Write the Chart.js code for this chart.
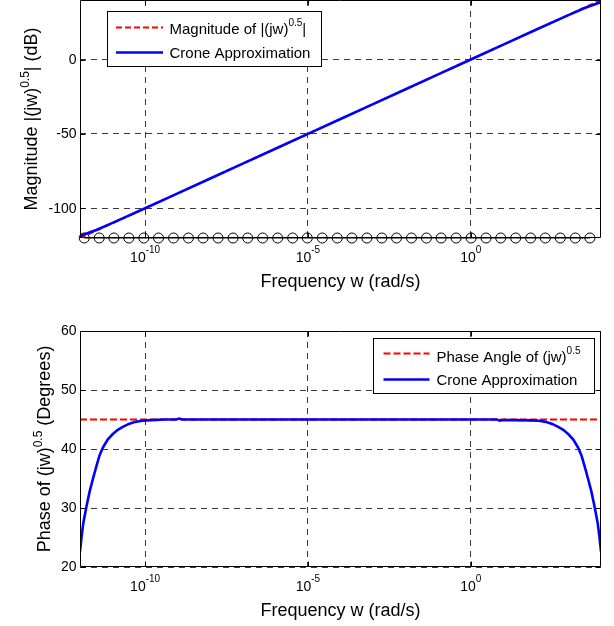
<!DOCTYPE html>
<html>
<head>
<meta charset="utf-8">
<title>Crone approximation of (jw)^0.5</title>
<style>
  html, body { margin: 0; padding: 0; background: #fff; overflow: hidden; }
  canvas { position: absolute; left: 0; display: block; }
</style>
<script src="https://cdn.jsdelivr.net/npm/chart.js@4/dist/chart.umd.min.js"></script>
</head>
<body>
<canvas id="mag" width="614" height="310" style="top:0"></canvas>
<canvas id="phase" width="614" height="316" style="top:310px"></canvas>
<script>
// ---- data (frequencies given as log10 exponents) ----
const xTickExp = [-10, -5, 0];

const magExp        = [-12, -11.5, -11, -10, -9, -8, -7, -6, -5, -4, -3, -2, -1, 0, 1, 2, 3, 3.5, 4];
const magExact      = [-120, -115, -110, -100, -90, -80, -70, -60, -50, -40, -30, -20, -10, 0, 10, 20, 30, 35, 40];
const magCrone      = [-118.6, -114.6, -109.8, -100, -90, -80, -70, -60, -50, -40, -30, -20, -10, 0, 10, 20, 29.8, 34.6, 38.6];
const magTicks      = [-100, -50, 0];

// recursive pole/zero frequencies shown along the bottom of the magnitude plot
const markerExp = [-11.87, -11.41, -10.96, -10.50, -10.04, -9.59, -9.13, -8.67, -8.22, -7.76,
                   -7.30, -6.85, -6.39, -5.93, -5.47, -5.02, -4.56, -4.10, -3.65, -3.19,
                   -2.73, -2.28, -1.82, -1.36, -0.91, -0.45, 0.01, 0.47, 0.92, 1.38,
                   1.84, 2.29, 2.75, 3.21, 3.66];
const markerLevel = -120;

const phaseExp   = [-12.00, -11.95, -11.90, -11.80, -11.70, -11.60, -11.50, -11.40, -11.30, -11.15,
                    -11.00, -10.85, -10.70, -10.50, -10.30, -10.10, -9.80, -9.40, -9.05, -8.95,
                    -8.85, -8, -6, -4, -2, 0, 0.80, 0.90, 1.00, 1.30,
                    1.80, 2.10, 2.30, 2.50, 2.70, 2.85, 3.00, 3.15, 3.30, 3.40,
                    3.50, 3.60, 3.70, 3.80, 3.90, 3.95, 4.00];
const phaseCrone = [22.6, 25.2, 27.4, 30.3, 32.9, 35.0, 37.0, 38.9, 40.2, 41.6,
                    42.5, 43.2, 43.7, 44.25, 44.6, 44.8, 44.9, 45.0, 45.0, 45.15,
                    45.0, 45.0, 45.0, 45.0, 45.0, 45.0, 45.0, 44.8, 44.9, 44.9,
                    44.85, 44.8, 44.6, 44.25, 43.7, 43.2, 42.5, 41.6, 40.2, 38.9,
                    37.0, 35.0, 32.9, 30.3, 27.4, 25.2, 22.6];
const phaseExactExp = [-12, 4];
const phaseExact    = [45, 45];
const phaseTicks    = [20, 30, 40, 50, 60];

// ---- helpers ----
const FONT = '"Liberation Sans", Arial, Helvetica, sans-serif';
const pts = (exps, ys) => exps.map((e, i) => ({ x: Math.pow(10, e), y: ys[i] }));

// measure / draw text made of normal and superscript runs
function richWidth(ctx, parts, size, supSize) {
  let w = 0;
  for (const [t, sup] of parts) {
    ctx.font = (sup ? supSize : size) + 'px ' + FONT;
    w += ctx.measureText(t).width;
  }
  return w;
}
function drawRich(ctx, parts, x, y, size, supSize, raise, align) {
  let cx = x;
  if (align === 'center') cx -= richWidth(ctx, parts, size, supSize) / 2;
  ctx.textAlign = 'left';
  ctx.textBaseline = 'alphabetic';
  for (const [t, sup] of parts) {
    ctx.font = (sup ? supSize : size) + 'px ' + FONT;
    ctx.fillText(t, cx, sup ? y - raise : y);
    cx += ctx.measureText(t).width;
  }
}

// axes box, inward ticks, tick labels, titles and legend in the classic plot style
const boxAxes = {
  id: 'boxAxes',
  afterDraw(chart, args, o) {
    const { ctx, chartArea: a } = chart;
    const xs = chart.scales.x, ys = chart.scales.y;
    const L = Math.round(a.left) + 0.5, R = Math.round(a.right) - 0.5;
    const T = Math.round(a.top) + 0.5, B = Math.round(a.bottom) - 0.5;
    ctx.save();
    ctx.fillStyle = '#000';
    ctx.strokeStyle = '#000';
    ctx.lineWidth = 1;
    ctx.setLineDash([]);
    ctx.beginPath();
    ctx.rect(L, T, R - L, B - T);
    // inward tick marks on all four sides
    for (const t of xs.ticks) {
      const px = Math.round(xs.getPixelForValue(t.value)) + 0.5;
      ctx.moveTo(px, B); ctx.lineTo(px, B - 5);
      ctx.moveTo(px, T); ctx.lineTo(px, T + 5);
    }
    for (const t of ys.ticks) {
      const py = Math.round(ys.getPixelForValue(t.value)) + 0.5;
      ctx.moveTo(L, py); ctx.lineTo(L + 5, py);
      ctx.moveTo(R, py); ctx.lineTo(R - 5, py);
    }
    ctx.stroke();

    // y tick labels
    ctx.font = '14px ' + FONT;
    ctx.textAlign = 'right';
    ctx.textBaseline = 'middle';
    for (const t of ys.ticks) {
      ctx.fillText(String(t.value), a.left - 3.5, ys.getPixelForValue(t.value) + 0.5);
    }
    // x tick labels as powers of ten
    for (const t of xs.ticks) {
      const e = Math.round(Math.log10(t.value));
      drawRich(ctx, [['10', false], [String(e), true]],
               xs.getPixelForValue(t.value), a.bottom + 23.5, 14, 10, 8.4, 'center');
    }
    // axis titles
    drawRich(ctx, [['Frequency w (rad/s)', false]], (a.left + a.right) / 2, a.bottom + 48.5, 18, 12, 0, 'center');
    ctx.save();
    ctx.translate(o.yTitleX, (a.top + a.bottom) / 2);
    ctx.rotate(-Math.PI / 2);
    drawRich(ctx, o.yTitle, 0, 0, 18, 12, 8.5, 'center');
    ctx.restore();

    // legend
    const lg = o.legend;
    const [bx0, by0, bx1, by1] = lg.box;
    ctx.fillStyle = '#fff';
    ctx.fillRect(bx0, by0, bx1 - bx0, by1 - by0);
    ctx.strokeStyle = '#000';
    ctx.lineWidth = 1;
    ctx.strokeRect(bx0 + 0.5, by0 + 0.5, bx1 - bx0 - 1, by1 - by0 - 1);
    for (const it of lg.items) {
      ctx.beginPath();
      ctx.strokeStyle = it.color;
      ctx.lineWidth = it.width;
      ctx.setLineDash(it.dash);
      ctx.moveTo(lg.lineX[0], it.lineY);
      ctx.lineTo(lg.lineX[1], it.lineY);
      ctx.stroke();
      ctx.setLineDash([]);
      ctx.fillStyle = '#000';
      drawRich(ctx, it.parts, lg.textX, it.textY, 15, 10, 8, 'left');
    }
    ctx.restore();
  }
};

function scaleX(height) {
  return {
    type: 'logarithmic',
    min: 1e-12,
    max: 1e4,
    afterBuildTicks: s => { s.ticks = xTickExp.map(e => ({ value: Math.pow(10, e) })); },
    afterFit: s => { s.height = height; },
    ticks: { display: false },
    grid: { color: '#3a3a3a', lineWidth: 1, drawTicks: false },
    border: { display: false, dash: [6, 5] }
  };
}
function scaleY(min, max, ticks) {
  return {
    type: 'linear',
    min: min,
    max: max,
    afterBuildTicks: s => { s.ticks = ticks.map(v => ({ value: v })); },
    afterFit: s => { s.width = 80; },
    ticks: { display: false },
    grid: { color: '#3a3a3a', lineWidth: 1, drawTicks: false },
    border: { display: false, dash: [6, 5] }
  };
}
const common = {
  responsive: false,
  animation: false,
  events: [],
  plugins: { legend: { display: false }, tooltip: { enabled: false } }
};

// ---- magnitude plot ----
new Chart(document.getElementById('mag'), {
  type: 'line',
  data: {
    datasets: [
      { label: 'Crone Approximation', data: pts(magExp, magCrone),
        borderColor: '#0000ff', borderWidth: 2.6, pointRadius: 0, tension: 0 },
      { label: 'Magnitude of |(jw)^0.5|', data: pts(magExp, magExact),
        borderColor: '#ff0000', borderWidth: 2, borderDash: [6, 3], pointRadius: 0, tension: 0 },
      { label: 'poles/zeros', data: markerExp.map(e => ({ x: Math.pow(10, e), y: markerLevel })),
        borderColor: '#000', borderWidth: 1, pointRadius: 5, pointStyle: 'circle',
        pointBorderColor: '#000', pointBorderWidth: 1, pointBackgroundColor: 'rgba(0,0,0,0)',
        clip: false, tension: 0 }
    ]
  },
  options: Object.assign({}, common, {
    layout: { autoPadding: false, padding: { left: 0, right: 13, top: 0, bottom: 0 } },
    scales: { x: scaleX(72), y: scaleY(-120, 40, magTicks) },
    plugins: Object.assign({}, common.plugins, {
      boxAxes: {
        yTitleX: 37,
        yTitle: [['Magnitude |(jw)', false], ['0.5', true], ['| (dB)', false]],
        legend: {
          box: [107, 11, 322, 67],
          lineX: [116, 163],
          textX: 169.5,
          items: [
            { color: '#ff0000', width: 2, dash: [6, 3], lineY: 27.5, textY: 34,
              parts: [['Magnitude of |(jw)', false], ['0.5', true], ['|', false]] },
            { color: '#0000ff', width: 2.6, dash: [], lineY: 52.5, textY: 58.3,
              parts: [['Crone Approximation', false]] }
          ]
        }
      }
    })
  }),
  plugins: [boxAxes]
});

// ---- phase plot ----
new Chart(document.getElementById('phase'), {
  type: 'line',
  data: {
    datasets: [
      { label: 'Crone Approximation', data: pts(phaseExp, phaseCrone),
        borderColor: '#0000ff', borderWidth: 2.6, pointRadius: 0, tension: 0 },
      { label: 'Phase Angle of (jw)^0.5', data: pts(phaseExactExp, phaseExact),
        borderColor: '#ff0000', borderWidth: 2, borderDash: [7, 3], pointRadius: 0, tension: 0 }
    ]
  },
  options: Object.assign({}, common, {
    layout: { autoPadding: false, padding: { left: 0, right: 13, top: 21, bottom: 0 } },
    scales: { x: scaleX(59), y: scaleY(20, 60, phaseTicks) },
    plugins: Object.assign({}, common.plugins, {
      boxAxes: {
        yTitleX: 50,
        yTitle: [['Phase of (jw)', false], ['0.5', true], [' (Degrees)', false]],
        legend: {
          box: [373, 28, 595, 84],
          lineX: [383.5, 429.5],
          textX: 436.5,
          items: [
            { color: '#ff0000', width: 2, dash: [7, 3], lineY: 43.5, textY: 51.5,
              parts: [['Phase Angle of (jw)', false], ['0.5', true]] },
            { color: '#0000ff', width: 2.6, dash: [], lineY: 69.5, textY: 75,
              parts: [['Crone Approximation', false]] }
          ]
        }
      }
    })
  }),
  plugins: [boxAxes]
});
</script>
</body>
</html>
